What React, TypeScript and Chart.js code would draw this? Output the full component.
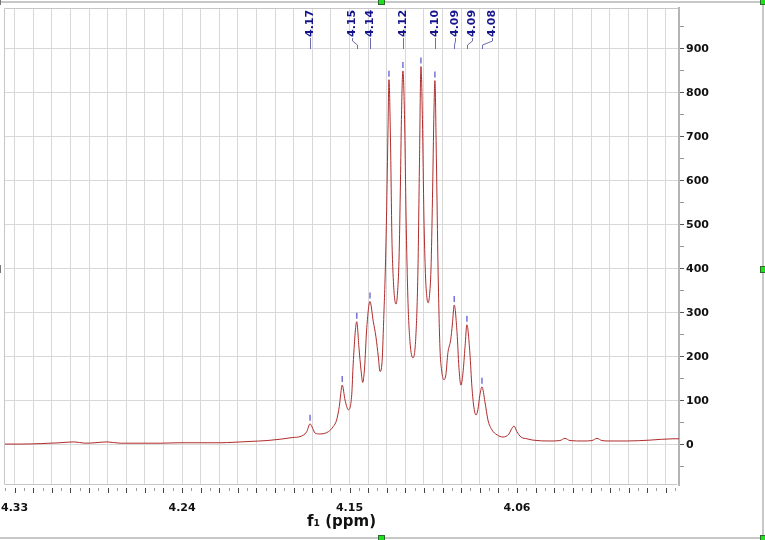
import React, { useEffect, useRef } from 'react';
import { Chart, registerables } from 'chart.js';

Chart.register(...registerables);

// ---- Data ----
const spectrumPpm = [
  4.3357, 4.3271, 4.3163, 4.3056, 4.2980, 4.2921, 4.2868, 4.2803, 4.2733, 4.2626,
  4.2518, 4.2411, 4.2303, 4.2196, 4.2126, 4.2035, 4.1943, 4.1873, 4.1804, 4.1766,
  4.1730, 4.1712, 4.1698, 4.1685, 4.1659, 4.1614, 4.1587, 4.1569, 4.1555, 4.1539,
  4.1524, 4.1506, 4.1488, 4.1480, 4.1461, 4.1449, 4.1438, 4.1429, 4.1419, 4.1408,
  4.1390, 4.1372, 4.1358, 4.1345, 4.1336, 4.1325, 4.1315, 4.1309, 4.1301, 4.1293,
  4.1288, 4.1280, 4.1272, 4.1266, 4.1258, 4.1250, 4.1242, 4.1234, 4.1226, 4.1221,
  4.1213, 4.1204, 4.1196, 4.1186, 4.1175, 4.1159, 4.1143, 4.1132, 4.1124, 4.1116,
  4.1108, 4.1100, 4.1092, 4.1084, 4.1077, 4.1070, 4.1062, 4.1054, 4.1046, 4.1041,
  4.1033, 4.1024, 4.1014, 4.1005, 4.0992, 4.0982, 4.0971, 4.0956, 4.0947, 4.0937,
  4.0922, 4.0912, 4.0901, 4.0890, 4.0879, 4.0869, 4.0853, 4.0842, 4.0831, 4.0820,
  4.0810, 4.0799, 4.0788, 4.0772, 4.0756, 4.0734, 4.0707, 4.0675, 4.0643, 4.0632,
  4.0616, 4.0600, 4.0578, 4.0546, 4.0514, 4.0423, 4.0369, 4.0342, 4.0315, 4.0245,
  4.0197, 4.0170, 4.0143, 4.0100, 4.0009, 3.9885, 3.9762, 3.9729,
];
const spectrumIntensity = [
  2, 2, 3, 5, 7, 4, 5, 7, 4, 4,
  4, 5, 5, 5, 6, 8, 10, 13, 17, 19,
  30, 48, 38, 27, 25, 30, 42, 57, 87, 136,
  102, 80, 114, 186, 280, 220, 170, 142, 175, 261,
  326, 280, 246, 200, 167, 189, 300, 375, 520, 720,
  830, 700, 470, 390, 335, 320, 345, 420, 600, 740,
  850, 740, 520, 330, 235, 198, 250, 400, 640, 860,
  740, 520, 390, 335, 323, 340, 400, 560, 760, 828,
  650, 400, 223, 170, 148, 160, 210, 239, 275, 318,
  255, 177, 136, 164, 223, 273, 209, 132, 84, 68,
  80, 114, 132, 98, 57, 34, 23, 18, 25, 34,
  43, 30, 18, 14, 11, 9, 10, 15, 10, 9,
  10, 15, 10, 9, 9, 11, 14, 14,
];

// picked peak tops (blue markers)
const peakPpm = [4.1712, 4.1539, 4.1461, 4.1390, 4.1288, 4.1213, 4.1116, 4.1041, 4.0937, 4.0869, 4.0788];
const peakIntensity = [48, 136, 280, 326, 830, 850, 860, 828, 318, 273, 132];

// peak labels at the top
const peakLabelText = ['4.17', '4.15', '4.14', '4.12', '4.10', '4.09', '4.09', '4.08'];
const peakLabelPpm = [4.1712, 4.1461, 4.1390, 4.1213, 4.1041, 4.0937, 4.0869, 4.0788];

// axis ranges / ticks
const xMin = 3.9729;
const xMax = 4.3357;
const xGridStep = 0.01;
const xRulerStep = 0.005;
const yMin = -91;
const yMax = 993;
const yTickStep = 50;
const yLabelStep = 100;

// ---- Styles (not data) ----
const labelShiftPx = [0, -5, 0, 0, 0, 1, 5, 10];
const FONT = "'DejaVu Sans', sans-serif";
const GRID = '#d8d8d8';

const decorPlugin = {
  id: 'decor',
  beforeDraw(chart: any) {
    const { ctx, width, height } = chart;
    ctx.save();
    ctx.fillStyle = '#ffffff';
    ctx.fillRect(0, 0, width, height);
    ctx.restore();
  },
  afterDatasetsDraw(chart: any) {
    const { ctx, chartArea: ca, scales } = chart;
    const x = scales.x;
    const y = scales.y;
    ctx.save();
    // plot frame (left, top, bottom)
    ctx.strokeStyle = '#c6c6c6';
    ctx.lineWidth = 1;
    ctx.beginPath();
    ctx.moveTo(ca.right, ca.top + 0.5);
    ctx.lineTo(ca.left + 0.5, ca.top + 0.5);
    ctx.lineTo(ca.left + 0.5, ca.bottom - 0.5);
    ctx.lineTo(ca.right - 2, ca.bottom - 0.5);
    ctx.stroke();

    // ruler under the plot
    const kStart = Math.ceil(xMin / xRulerStep);
    const kEnd = Math.floor(xMax / xRulerStep);
    for (let k = kStart; k <= kEnd; k++) {
      const px = Math.round(x.getPixelForValue(k * xRulerStep)) + 0.5;
      const major = k % 2 === 0;
      ctx.strokeStyle = major ? '#444' : '#9a9a9a';
      ctx.beginPath();
      ctx.moveTo(px, ca.bottom + 3);
      ctx.lineTo(px, ca.bottom + (major ? 8 : 6));
      ctx.stroke();
    }

    // peak markers
    ctx.strokeStyle = 'rgba(90,90,210,0.85)';
    ctx.lineWidth = 1.5;
    for (let i = 0; i < peakPpm.length; i++) {
      const px = x.getPixelForValue(peakPpm[i]);
      const py = y.getPixelForValue(peakIntensity[i]);
      ctx.beginPath();
      ctx.moveTo(px, py - 9);
      ctx.lineTo(px, py - 3);
      ctx.stroke();
    }

    // peak labels
    const textBottom = 38;
    for (let i = 0; i < peakLabelText.length; i++) {
      const pPx = Math.round(x.getPixelForValue(peakLabelPpm[i])) + 0.5;
      const lPx = pPx + labelShiftPx[i];
      ctx.strokeStyle = '#6c6cb0';
      ctx.lineWidth = 1;
      ctx.beginPath();
      ctx.moveTo(lPx, textBottom);
      ctx.lineTo(lPx, textBottom + 3);
      ctx.lineTo(pPx, textBottom + 7);
      ctx.lineTo(pPx, textBottom + 11);
      ctx.stroke();
      ctx.save();
      ctx.translate(lPx, textBottom - 1);
      ctx.rotate(-Math.PI / 2);
      ctx.fillStyle = '#14148c';
      ctx.font = `bold 11px ${FONT}`;
      ctx.textAlign = 'left';
      ctx.textBaseline = 'middle';
      ctx.fillText(peakLabelText[i], 0, 0);
      ctx.restore();
    }
    ctx.restore();
  },
  afterDraw(chart: any) {
    const { ctx, width, height } = chart;
    ctx.save();
    ctx.strokeStyle = '#c8c8c8';
    ctx.lineWidth = 2;
    ctx.beginPath();
    ctx.moveTo(0, 2);
    ctx.lineTo(width - 2, 2);
    ctx.lineTo(width - 2, height - 2);
    ctx.lineTo(0, height - 2);
    ctx.stroke();
    ctx.strokeStyle = '#777';
    ctx.lineWidth = 1;
    ctx.beginPath();
    ctx.moveTo(0.5, 265);
    ctx.lineTo(0.5, 273);
    ctx.moveTo(0.5, 0);
    ctx.lineTo(0.5, 5);
    ctx.stroke();
    const handles = [
      [378, -2],
      [width - 5, -2],
      [width - 5, 266],
      [378, height - 5],
      [width - 5, height - 5],
    ];
    for (const [hx, hy] of handles) {
      ctx.fillStyle = '#1ee01e';
      ctx.fillRect(hx, hy, 7, 7);
      ctx.strokeStyle = '#2a6a2a';
      ctx.strokeRect(hx + 0.5, hy + 0.5, 6, 6);
    }
    ctx.restore();
  },
};

export default function App() {
  const canvasRef = useRef<HTMLCanvasElement | null>(null);

  useEffect(() => {
    const canvas = canvasRef.current;
    if (!canvas) return;
    const points = spectrumPpm.map((p, i) => ({ x: p, y: spectrumIntensity[i] }));
    const chart = new Chart(canvas, {
      type: 'line',
      data: {
        datasets: [
          {
            data: points,
            borderColor: '#b02c2c',
            borderWidth: 1,
            pointRadius: 0,
            fill: false,
            cubicInterpolationMode: 'monotone',
          },
        ],
      },
      plugins: [decorPlugin],
      options: {
        animation: false,
        responsive: false,
        layout: { padding: { left: 4, top: 8, right: 0, bottom: 0 } },
        plugins: { legend: { display: false }, tooltip: { enabled: false } },
        scales: {
          x: {
            type: 'linear',
            reverse: true,
            min: xMin,
            max: xMax,
            afterFit: (s: any) => {
              s.height = 55;
              s.paddingLeft = 0;
              s.paddingRight = 0;
            },
            border: { display: false },
            grid: { color: GRID, drawTicks: false, lineWidth: 1 },
            ticks: {
              stepSize: xGridStep,
              includeBounds: false,
              autoSkip: false,
              maxRotation: 0,
              padding: 17,
              color: '#111',
              font: { family: FONT, size: 11, weight: 'bold' },
              callback: (v: any) => {
                const n = Math.round(Number(v) * 100);
                return n % 9 === 1 ? (n / 100).toFixed(2) : '';
              },
            },
            title: {
              display: true,
              text: 'f₁ (ppm)',
              color: '#111',
              font: { family: FONT, size: 15, weight: 'bold' },
              padding: { top: 0, bottom: 9 },
            },
          },
          y: {
            type: 'linear',
            position: 'right',
            min: yMin,
            max: yMax,
            afterFit: (s: any) => {
              s.width = 86;
              s.paddingTop = 0;
              s.paddingBottom = 0;
            },
            border: { display: true, color: '#b4b4b4', width: 2 },
            grid: {
              color: (c: any) => (c.tick && c.tick.value % yLabelStep === 0 ? GRID : 'rgba(0,0,0,0)'),
              tickColor: (c: any) => (c.tick && c.tick.value % yLabelStep === 0 ? '#555' : '#999'),
              tickLength: 5,
            },
            ticks: {
              stepSize: yTickStep,
              includeBounds: false,
              autoSkip: false,
              padding: 2,
              color: '#111',
              font: { family: FONT, size: 11, weight: 'bold' },
              callback: (v: any) => (Number(v) % yLabelStep === 0 ? String(v) : ''),
            },
          },
        },
      } as any,
    });
    return () => chart.destroy();
  }, []);

  return (
    <div style={{ position: 'fixed', left: 0, top: 0, width: 765, height: 540, background: '#fff' }}>
      <canvas ref={canvasRef} width={765} height={540} style={{ display: 'block' }} />
    </div>
  );
}
